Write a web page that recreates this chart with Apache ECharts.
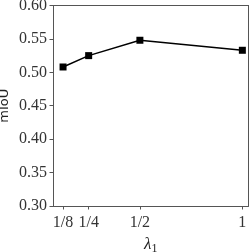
<!DOCTYPE html>
<html>
<head>
<meta charset="utf-8">
<script src="https://cdn.jsdelivr.net/npm/echarts@6/dist/echarts.min.js"></script>
<style>html,body{margin:0;padding:0;background:#fff}#c{width:252px;height:252px}</style>
</head>
<body>
<div id="c"></div>
<script>
const lambdaValues = [0.125, 0.25, 0.5, 1];
const tickLabels = {0.125: '1/8', 0.25: '1/4', 0.5: '1/2', 1: '1'};
const miou = [0.508, 0.525, 0.548, 0.533];

const chart = echarts.init(document.getElementById('c'), null, {renderer: 'canvas'});
const serif = 'Liberation Serif';
const frame = '#555';
chart.setOption({
  animation: false,
  backgroundColor: '#fff',
  grid: {left: 53, right: 3.5, top: 5.5, bottom: 46, containLabel: false, outerBoundsMode: 'none'},
  xAxis: [{
    type: 'value',
    min: 0.076, max: 1.03,
    name: '{l|λ}{s|1}',
    nameLocation: 'middle',
    nameMoveOverlap: false,
    nameGap: 29,
    nameTextStyle: {
      rich: {
        l: {fontFamily: serif, fontStyle: 'italic', fontSize: 17, color: '#222'},
        s: {fontFamily: serif, fontSize: 12, color: '#222', verticalAlign: 'bottom', padding: [8, 0, 0, 0]}
      }
    },
    axisLine: {show: true, onZero: false, lineStyle: {color: frame, width: 1}},
    axisTick: {show: true, length: 3.5, inside: false, lineStyle: {color: frame},
      customValues: lambdaValues},
    axisLabel: {fontFamily: serif, fontSize: 16, color: '#333', margin: 9,
      customValues: lambdaValues,
      formatter: v => tickLabels[v] !== undefined ? tickLabels[v] : ''},
    splitLine: {show: false}
  }, {
    type: 'value', position: 'top', min: 0.076, max: 1.03,
    axisLine: {show: true, onZero: false, lineStyle: {color: frame}},
    axisTick: {show: false}, axisLabel: {show: false}, splitLine: {show: false}
  }],
  yAxis: [{
    type: 'value',
    min: 0.30, max: 0.60, interval: 0.05,
    name: 'mIoU',
    nameLocation: 'middle',
    nameMoveOverlap: false,
    nameGap: 42,
    nameTextStyle: {fontFamily: 'DejaVu Sans', fontSize: 13, color: '#222'},
    axisLine: {show: true, lineStyle: {color: frame, width: 1}},
    axisTick: {show: true, length: 3.5, lineStyle: {color: frame}},
    axisLabel: {fontFamily: serif, fontSize: 16, color: '#333', margin: 6,
      formatter: v => v.toFixed(2)},
    splitLine: {show: false}
  }, {
    type: 'value', position: 'right', min: 0.30, max: 0.60,
    axisLine: {show: true, lineStyle: {color: frame}},
    axisTick: {show: false}, axisLabel: {show: false}, splitLine: {show: false}
  }],
  series: [{
    type: 'line',
    data: lambdaValues.map((x, i) => [x, miou[i]]),
    symbol: 'rect',
    symbolSize: 7,
    showAllSymbol: true,
    itemStyle: {color: '#000'},
    lineStyle: {color: '#000', width: 1.5}
  }]
});
</script>
</body>
</html>
